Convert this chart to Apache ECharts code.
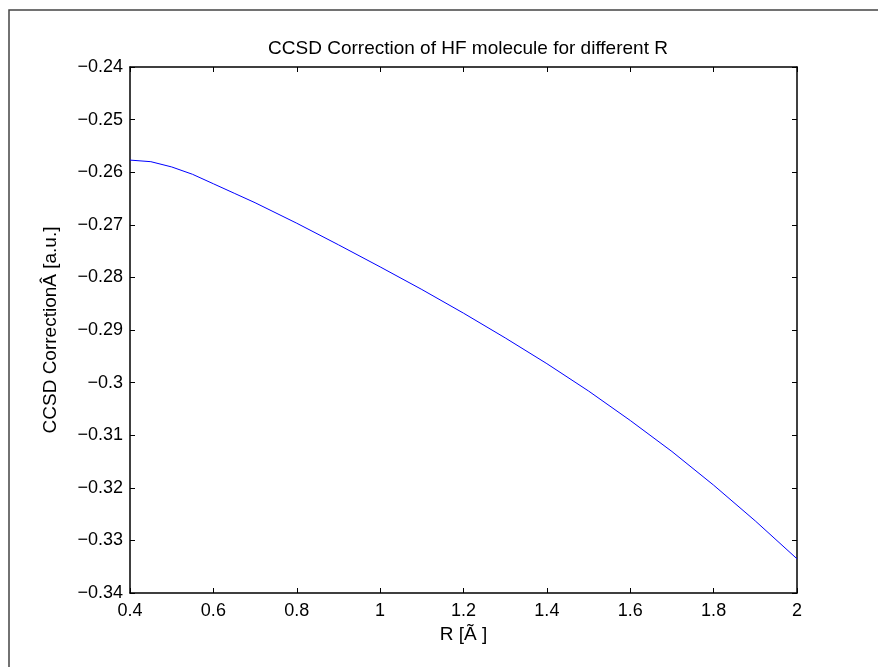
<!DOCTYPE html>
<html>
<head>
<meta charset="utf-8">
<script src="https://cdn.jsdelivr.net/npm/echarts@6/dist/echarts.min.js"></script>
<style>html,body{margin:0;padding:0;background:#fff;}#c{width:878px;height:667px;}</style>
</head>
<body>
<div id="c"></div>
<script>
var titleText = 'CCSD Correction of HF molecule for different R';
var xName = 'R [Ã ]';
var yName = 'CCSD CorrectionÂ [a.u.]';
var rValues = [0.4,0.45,0.5,0.55,0.6,0.65,0.7,0.8,0.9,1.0,1.1,1.2,1.3,1.4,1.5,1.6,1.7,1.8,1.9,2.0];
var ccsdValues = [-0.2577,-0.2580,-0.2590,-0.2604,-0.2622,-0.2640,-0.2658,-0.2697,-0.2738,-0.2780,-0.2823,-0.2868,-0.2915,-0.2964,-0.3016,-0.3072,-0.3131,-0.3195,-0.3263,-0.3335];

var font = 'Liberation Sans, Arial, Helvetica, sans-serif';
var fmt = function (v) { return String(+v.toFixed(4)).replace('-', '\u2212'); };
var chart = echarts.init(document.getElementById('c'), null, {renderer: 'canvas'});
var pts = rValues.map(function (r, i) { return [r, ccsdValues[i]]; });
var tickStyle = {show: true, inside: true, length: 5, lineStyle: {color: '#000', width: 1}};
var lineStyle = {show: true, lineStyle: {color: '#000', width: 1.5}};
chart.setOption({
  animation: false,
  backgroundColor: '#fff',
  title: {text: titleText, left: 463, top: 34, textAlign: 'center',
    textStyle: {fontFamily: font, fontSize: 19, fontWeight: 'normal', color: '#000'}},
  grid: {left: 130, right: 81, top: 67, bottom: 74, show: false},
  graphic: [{type: 'polyline', shape: {points: [[9, 667], [9, 10], [878, 10]]},
    style: {stroke: '#444', lineWidth: 1.5, fill: null}}],
  xAxis: [{type: 'value', min: 0.4, max: 2, interval: 0.2, position: 'bottom',
    name: xName, nameLocation: 'middle', nameGap: 31,
    nameTextStyle: {fontFamily: font, fontSize: 19, color: '#000'},
    axisLine: lineStyle, axisTick: tickStyle, splitLine: {show: false},
    axisLabel: {fontFamily: font, fontSize: 18, color: '#000', margin: 9, formatter: fmt}},
   {type: 'value', min: 0.4, max: 2, interval: 0.2, position: 'top',
    axisLine: lineStyle, axisTick: tickStyle, splitLine: {show: false}, axisLabel: {show: false}}],
  yAxis: [{type: 'value', min: -0.34, max: -0.24, interval: 0.01, position: 'left',
    name: yName, nameLocation: 'middle', nameGap: 70, nameRotate: 90,
    nameTextStyle: {fontFamily: font, fontSize: 19, color: '#000'},
    axisLine: lineStyle, axisTick: tickStyle, splitLine: {show: false},
    axisLabel: {fontFamily: font, fontSize: 18, color: '#000', margin: 7, formatter: fmt}},
   {type: 'value', min: -0.34, max: -0.24, interval: 0.01, position: 'right',
    axisLine: lineStyle, axisTick: tickStyle, splitLine: {show: false}, axisLabel: {show: false}}],
  series: [{type: 'line', data: pts, xAxisIndex: 0, yAxisIndex: 0, showSymbol: false, smooth: false,
    lineStyle: {color: '#0000ff', width: 1}}]
});
</script>
</body>
</html>
